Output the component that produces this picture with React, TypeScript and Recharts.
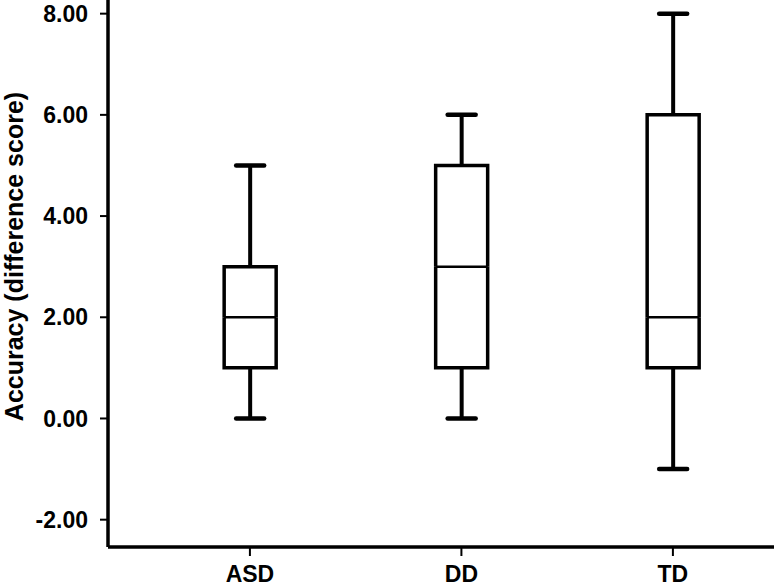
import React from "react";
import { ComposedChart, Bar, XAxis, YAxis } from "recharts";

const groups = ["ASD", "DD", "TD"];
const positions = [1, 2, 3];
const mins = [0, 0, -1];
const q1s = [1, 1, 1];
const medians = [2, 3, 2];
const q3s = [3, 5, 6];
const maxs = [5, 6, 8];
const yTicks = [-2, 0, 2, 4, 6, 8];

const data = groups.map((g, i) => ({
  name: g,
  pos: positions[i],
  base: mins[i],
  lowWhisker: q1s[i] - mins[i],
  lowBox: medians[i] - q1s[i],
  highBox: q3s[i] - medians[i],
  highWhisker: maxs[i] - q3s[i],
}));

const FONT = "'Liberation Sans', Arial, sans-serif";
const CAP = 28;

const Empty = () => null;

const LowWhisker = (props: any) => {
  const { x, y, width, height } = props;
  const cx = x + width / 2;
  return (
    <g>
      <line x1={cx} x2={cx} y1={y} y2={y + height} stroke="#000" strokeWidth={4} />
      <line x1={cx - CAP / 2} x2={cx + CAP / 2} y1={y + height} y2={y + height} stroke="#000" strokeWidth={4.5} strokeLinecap="round" />
    </g>
  );
};

const HighWhisker = (props: any) => {
  const { x, y, width, height } = props;
  const cx = x + width / 2;
  return (
    <g>
      <line x1={cx} x2={cx} y1={y} y2={y + height} stroke="#000" strokeWidth={4} />
      <line x1={cx - CAP / 2} x2={cx + CAP / 2} y1={y} y2={y} stroke="#000" strokeWidth={4.5} strokeLinecap="round" />
    </g>
  );
};

const LowBox = (props: any) => {
  const { x, y, width, height } = props;
  return (
    <g>
      <path
        d={`M${x},${y} L${x},${y + height} L${x + width},${y + height} L${x + width},${y}`}
        fill="#fff"
        stroke="#000"
        strokeWidth={3.5}
        strokeLinejoin="miter"
      />
      <line x1={x} x2={x + width} y1={y} y2={y} stroke="#000" strokeWidth={2.5} />
    </g>
  );
};

const HighBox = (props: any) => {
  const { x, y, width, height } = props;
  return (
    <path
      d={`M${x},${y + height} L${x},${y} L${x + width},${y} L${x + width},${y + height}`}
      fill="none"
      stroke="#000"
      strokeWidth={3.5}
      strokeLinejoin="miter"
    />
  );
};

export default function App() {
  return (
    <div>
      <style>{`body{margin:0;background:#fff}`}</style>
      <ComposedChart width={774} height={587} data={data} margin={{ top: 0, right: 0, bottom: 0, left: 0 }}>
        <XAxis
          dataKey="pos"
          type="number"
          domain={[0.329, 3.478]}
          allowDataOverflow
          ticks={positions}
          tickFormatter={(v: number) => groups[positions.indexOf(v)] ?? ""}
          height={40}
          tickSize={9}
          tickMargin={10}
          axisLine={{ stroke: "#000", strokeWidth: 3.5 }}
          tickLine={{ stroke: "#000", strokeWidth: 2 }}
          tick={{ fill: "#000", fontSize: 23, fontWeight: 700, fontFamily: FONT }}
        />
        <YAxis
          type="number"
          domain={[-2.54, 8.27]}
          allowDataOverflow
          ticks={yTicks}
          tickFormatter={(v: number) => v.toFixed(2)}
          width={108}
          tickSize={8}
          tickMargin={12}
          axisLine={{ stroke: "#000", strokeWidth: 3.5 }}
          tickLine={{ stroke: "#000", strokeWidth: 2 }}
          tick={{ fill: "#000", fontSize: 23, fontWeight: 700, fontFamily: FONT }}
          label={{
            value: "Accuracy (difference score)",
            angle: -90,
            position: "insideLeft",
            dx: 9,
            dy: -17,
            style: { fill: "#000", fontSize: 25, fontWeight: 700, fontFamily: FONT, textAnchor: "middle" },
          }}
        />
        <Bar dataKey="base" stackId="box" barSize={52} shape={<Empty />} isAnimationActive={false} />
        <Bar dataKey="lowWhisker" stackId="box" barSize={52} shape={<LowWhisker />} isAnimationActive={false} />
        <Bar dataKey="lowBox" stackId="box" barSize={52} shape={<LowBox />} isAnimationActive={false} />
        <Bar dataKey="highBox" stackId="box" barSize={52} shape={<HighBox />} isAnimationActive={false} />
        <Bar dataKey="highWhisker" stackId="box" barSize={52} shape={<HighWhisker />} isAnimationActive={false} />
      </ComposedChart>
    </div>
  );
}
